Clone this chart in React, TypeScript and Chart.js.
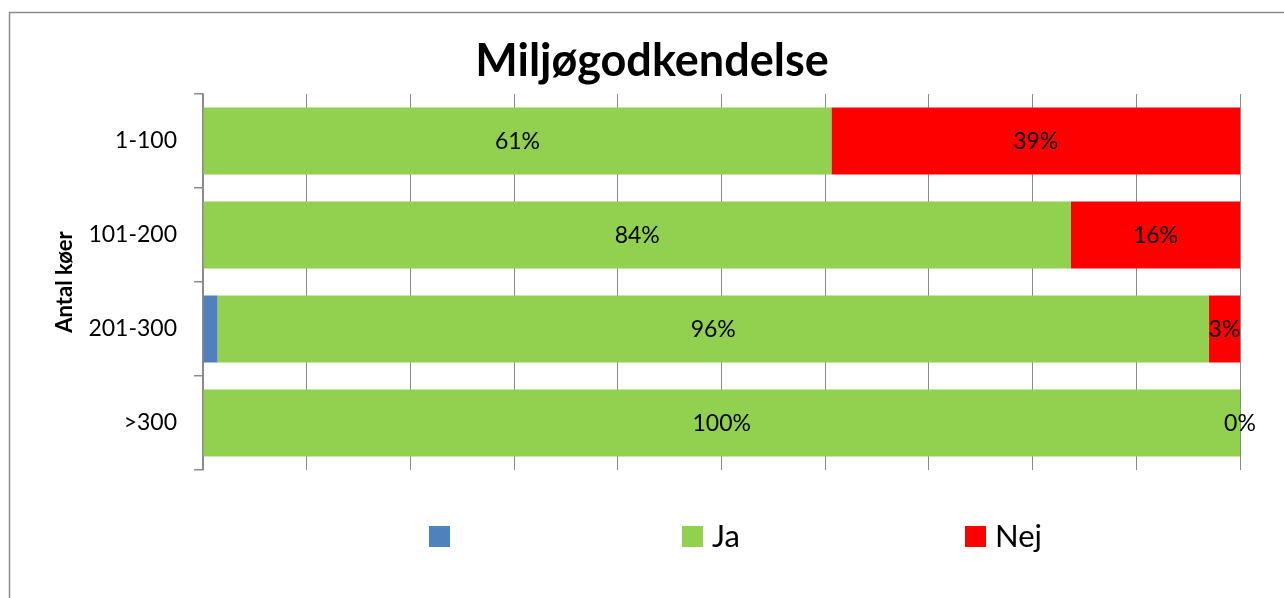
import React, { useEffect, useRef } from "react";
import { Chart, registerables } from "chart.js";

Chart.register(...registerables);

const chartTitle = "Miljøgodkendelse";
const yAxisTitle = "Antal køer";
const categories = ["1-100", "101-200", "201-300", ">300"];
const seriesNames = ["", "Ja", "Nej"];
const blankValues = [0, 0, 1.4, 0];
const jaValues = [60.6, 83.7, 95.6, 100];
const nejValues = [39.4, 16.3, 3.0, 0];
const seriesColors = ["#4F81BD", "#92D050", "#FF0000"];
const xMin = 0;
const xMax = 100;
const xStep = 10;

const FONT = "Lato, 'Open Sans', sans-serif";
const GRID = "#8a8a8a";

const decorPlugin = {
  id: "decor",
  beforeDraw(chart: any) {
    const ctx = chart.ctx;
    ctx.save();
    ctx.fillStyle = "#ffffff";
    ctx.fillRect(0, 0, chart.width, chart.height);
    ctx.strokeStyle = GRID;
    ctx.lineWidth = 1.5;
    ctx.strokeRect(9.5, 12.5, chart.width + 20, chart.height + 20);
    ctx.restore();
  },
  afterDatasetsDraw(chart: any) {
    const ctx = chart.ctx;
    ctx.save();
    ctx.fillStyle = "#000000";
    ctx.font = `23px ${FONT}`;
    ctx.textAlign = "center";
    ctx.textBaseline = "middle";
    chart.data.datasets.forEach((ds: any, i: number) => {
      if (!ds.label) return;
      const meta = chart.getDatasetMeta(i);
      meta.data.forEach((el: any, j: number) => {
        const p = el.getProps(["x", "y", "base"], true);
        const cx = (p.x + p.base) / 2;
        ctx.fillText(Math.round(ds.data[j]) + "%", cx, p.y + 1);
      });
    });
    ctx.restore();
  },
  afterDraw(chart: any) {
    const ctx = chart.ctx;
    ctx.save();
    // title
    ctx.fillStyle = "#000000";
    ctx.font = `bold 45px ${FONT}`;
    ctx.textAlign = "center";
    ctx.textBaseline = "alphabetic";
    ctx.fillText(chartTitle, chart.width / 2 + 10, 76);
    // legend
    const boxX = [429, 682, 965];
    ctx.font = `31px ${FONT}`;
    ctx.textAlign = "left";
    chart.data.datasets.forEach((ds: any, i: number) => {
      ctx.fillStyle = ds.backgroundColor;
      ctx.fillRect(boxX[i], 526, 21, 21);
      ctx.fillStyle = "#000000";
      ctx.fillText(ds.label, boxX[i] + 30, 547);
    });
    ctx.restore();
  },
};

export default function App() {
  const ref = useRef<HTMLCanvasElement | null>(null);
  useEffect(() => {
    document.body.style.margin = "0";
    const chart = new Chart(ref.current as HTMLCanvasElement, {
      type: "bar",
      data: {
        labels: categories,
        datasets: [
          { label: seriesNames[0], data: blankValues, backgroundColor: seriesColors[0] },
          { label: seriesNames[1], data: jaValues, backgroundColor: seriesColors[1] },
          { label: seriesNames[2], data: nejValues, backgroundColor: seriesColors[2] },
        ],
      },
      options: {
        indexAxis: "y",
        animation: false,
        responsive: true,
        maintainAspectRatio: false,
        datasets: { bar: { barPercentage: 0.713, categoryPercentage: 1 } },
        layout: { padding: { top: 94, right: 44, bottom: 128, left: 52 } },
        plugins: { legend: { display: false }, title: { display: false }, tooltip: { enabled: false } },
        scales: {
          x: {
            stacked: true,
            min: xMin,
            max: xMax,
            ticks: { display: false, stepSize: xStep },
            grid: { color: GRID, lineWidth: 1, drawTicks: false },
            border: { display: false },
            afterFit: (s: any) => { s.height = 0; },
          },
          y: {
            stacked: true,
            ticks: { color: "#000000", font: { family: FONT, size: 23 }, padding: 17 },
            grid: { offset: true, drawOnChartArea: false, drawTicks: true, tickLength: 9, color: GRID, lineWidth: 1.5 },
            border: { display: true, color: GRID, width: 1.5 },
            title: {
              display: true,
              text: yAxisTitle,
              color: "#000000",
              font: { family: FONT, size: 22, weight: "bold" },
              padding: 0,
            },
            afterFit: (s: any) => { s.width = 151; },
          },
        },
      },
      plugins: [decorPlugin],
    } as any);
    return () => chart.destroy();
  }, []);
  return (
    <div style={{ width: 1284, height: 598, position: "relative" }}>
      <canvas ref={ref} />
    </div>
  );
}
